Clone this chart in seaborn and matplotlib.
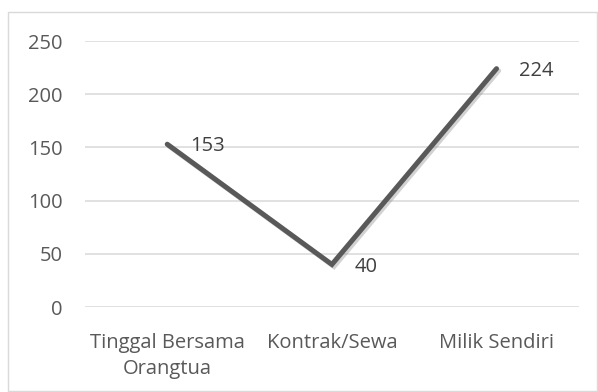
import matplotlib
matplotlib.use("Agg")
import matplotlib.pyplot as plt
import matplotlib.patheffects as pe
from matplotlib.patches import Rectangle
import pandas as pd
import seaborn as sns

categories = ["Tinggal Bersama\nOrangtua", "Kontrak/Sewa", "Milik Sendiri"]
values = [153, 40, 224]
y_ticks = [0, 50, 100, 150, 200, 250]

sns.set_theme(style="white")
plt.rcParams["font.family"] = ["Open Sans", "DejaVu Sans"]

df = pd.DataFrame({"kategori": categories, "jumlah": values})

fig = plt.figure(figsize=(5.98, 3.92), dpi=100)
ax = fig.add_axes([0.142, 0.2168, 0.826, 0.6786])

# outer chart border
fig.patches.append(Rectangle((8 / 598, 1.5 / 392), 589 / 598, 379 / 392,
                             transform=fig.transFigure, fill=False,
                             edgecolor="#d9d9d9", linewidth=1.0))

sns.lineplot(data=df, x="kategori", y="jumlah", ax=ax, color="#595959",
             linewidth=3.6, sort=False, solid_capstyle="round",
             solid_joinstyle="miter",
             path_effects=[pe.SimpleLineShadow(offset=(1.5, -1.5), shadow_color="#808080",
                                               alpha=0.35),
                           pe.Normal()])

for i, v in enumerate(values):
    ax.annotate(str(v), (i, v), xytext=(16.5, -1.5), textcoords="offset points",
                ha="left", va="center", fontsize=14.5, color="#404040")

ax.set_xlim(-0.5, 2.5)
ax.set_ylim(0, 250)
ax.set_yticks(y_ticks)
ax.yaxis.grid(True, color="#d9d9d9", linewidth=1.1)
ax.set_axisbelow(True)
for s in ax.spines.values():
    s.set_visible(False)
ax.set_xlabel("")
ax.set_ylabel("")
ax.tick_params(axis="both", length=0, labelsize=14.5, labelcolor="#595959")
ax.tick_params(axis="y", pad=16)
ax.tick_params(axis="x", pad=19)
for lbl in ax.get_xticklabels():
    lbl.set_linespacing(1.35)

fig.savefig("out.png", dpi=100)
